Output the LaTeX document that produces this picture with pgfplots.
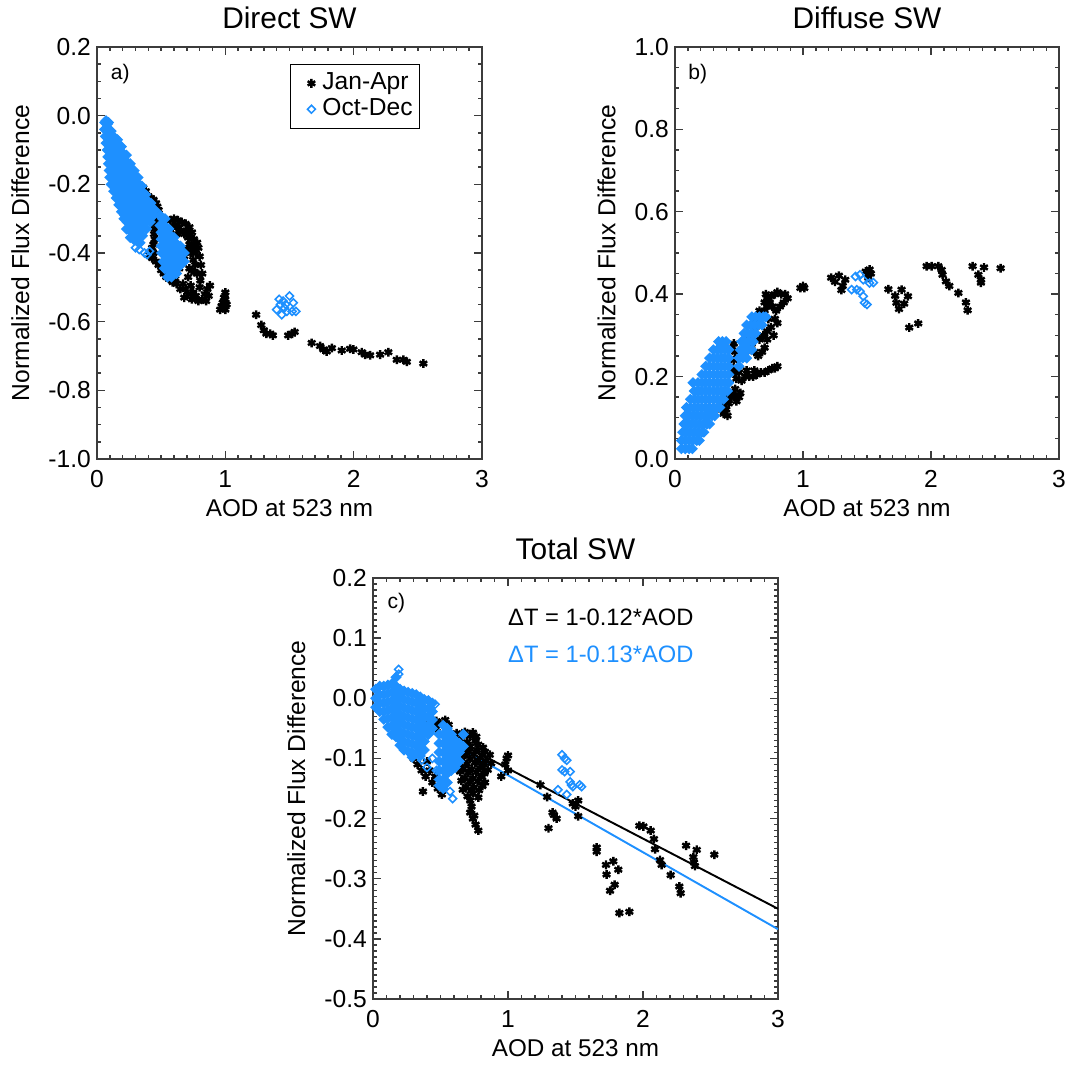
\documentclass[border=0pt]{standalone}
\usepackage{fontspec}
\setmainfont{Liberation Sans}
\usepackage{pgfplots}
\pgfplotsset{compat=1.18}
\definecolor{octdec}{RGB}{30,144,255}
\definecolor{axisgray}{RGB}{60,60,60}

\pgfplotsset{
  idl/.style={
    scale only axis,
    anchor=south west,
    xmin=0, xmax=3, xtick={0,1,2,3}, minor x tick num=9,
    tick align=inside,
    xtick pos=both, ytick pos=both,
    major tick length=4.8pt, minor tick length=2.5pt,
    axis line style={line width=1pt, axisgray},
    every tick/.style={axisgray, line width=0.8pt},
    /pgf/number format/assume math mode=true,
    xticklabel style={font=\fontsize{14}{16}\selectfont, yshift=-3pt},
    yticklabel style={font=\fontsize{14}{16}\selectfont,
      /pgf/number format/.cd, fixed, fixed zerofill, precision=1},
    xlabel={AOD at 523 nm}, ylabel={Normalized Flux Difference},
    xlabel style={font=\fontsize{13.8}{16}\selectfont},
    ylabel style={font=\fontsize{14}{16}\selectfont, yshift=4pt},
    title style={font=\fontsize{17}{19}\selectfont, yshift=1pt},
  },
  jan/.style={only marks, mark=asterisk, mark size=2.5pt, black, line width=1.4pt},
  oct/.style={only marks, mark=square, mark size=1.6pt, octdec, line width=0.9pt, mark options={rotate=45}},
  octf/.style={only marks, mark=square*, mark size=1.8pt, octdec, line width=0.9pt,
    mark options={rotate=45, fill=octdec}},
}
\tikzset{panel/.style={anchor=north west, inner sep=0pt, font=\fontsize{12}{14}\selectfont}}

\begin{document}
\begin{tikzpicture}
\path (0,0) rectangle (21.40cm,21.66cm);

% a) direct
\begin{axis}[idl, at={(1.94cm,12.48cm)}, width=7.70cm, height=8.24cm,
  ymin=-1.0, ymax=0.2, ytick={-1,-0.8,-0.6,-0.4,-0.2,0,0.2}, minor y tick num=3,
  title={Direct SW},
  legend cell align=left,
  legend image code/.code={\path[draw=none, fill=none] (0cm,-0.1cm) rectangle (0.5cm,0.1cm);
    \draw[#1] plot coordinates {(0.35cm,0cm)};},
  legend style={at={(0.501,0.959)}, anchor=north west, draw=black, line width=0.6pt,
    font=\fontsize{14}{16}\selectfont,
    nodes={font=\fontsize{14}{16}\selectfont, text height=10pt, text depth=3pt, inner ysep=0.5pt},
    row sep=0.7pt, inner xsep=2pt, inner ysep=3.8pt}]
\addplot[jan] coordinates {
(0.30,-0.20)(0.33,-0.205)(0.36,-0.21)(0.38,-0.22)(0.40,-0.235)(0.42,-0.24)(0.44,-0.245)
(0.46,-0.255)(0.47,-0.265)(0.48,-0.275)(0.465,-0.285)(0.455,-0.30)(0.46,-0.315)(0.45,-0.33)
(0.445,-0.345)(0.45,-0.36)(0.44,-0.375)(0.43,-0.385)(0.44,-0.40)(0.41,-0.405)(0.43,-0.415)
(0.46,-0.425)(0.48,-0.435)(0.50,-0.45)(0.52,-0.46)(0.54,-0.47)(0.56,-0.475)(0.59,-0.485)(0.61,-0.475)
(0.57,-0.305)(0.60,-0.30)(0.63,-0.305)(0.66,-0.31)(0.69,-0.315)(0.72,-0.325)(0.74,-0.34)
(0.755,-0.36)(0.745,-0.38)(0.73,-0.40)(0.75,-0.42)(0.765,-0.435)(0.77,-0.40)(0.78,-0.37)
(0.59,-0.325)(0.62,-0.345)(0.65,-0.335)(0.68,-0.345)(0.71,-0.355)(0.72,-0.375)(0.70,-0.39)
(0.68,-0.41)(0.66,-0.43)(0.64,-0.445)(0.61,-0.32)(0.64,-0.325)(0.70,-0.335)(0.76,-0.39)
(0.79,-0.385)(0.80,-0.41)(0.81,-0.435)(0.82,-0.46)(0.805,-0.48)(0.78,-0.46)(0.76,-0.455)
(0.74,-0.45)(0.72,-0.445)(0.71,-0.47)(0.73,-0.495)(0.75,-0.515)(0.77,-0.525)(0.79,-0.54)
(0.82,-0.535)(0.84,-0.52)(0.86,-0.505)(0.88,-0.495)(0.87,-0.525)(0.85,-0.54)(0.67,-0.49)
(0.69,-0.505)(0.71,-0.52)(0.68,-0.53)(0.65,-0.505)(0.62,-0.49)(0.74,-0.535)(0.80,-0.50)
(0.96,-0.565)(0.97,-0.555)(0.98,-0.545)(0.99,-0.53)(1.00,-0.515)(1.00,-0.535)(1.01,-0.55)(1.00,-0.565)
(1.24,-0.58)(1.28,-0.61)(1.30,-0.625)(1.32,-0.635)(1.35,-0.635)(1.37,-0.64)(1.49,-0.64)
(1.52,-0.635)(1.54,-0.63)
(1.673,-0.662)(1.738,-0.671)(1.764,-0.681)(1.79,-0.687)(1.83,-0.677)(1.907,-0.684)
(1.972,-0.679)(1.998,-0.681)(2.063,-0.689)(2.089,-0.696)(2.128,-0.698)(2.206,-0.696)
(2.27,-0.689)(2.336,-0.711)(2.387,-0.711)(2.414,-0.717)(2.543,-0.722)
};
\addlegendentry{Jan-Apr}
\addplot[oct] coordinates {
(1.40,-0.565)(1.42,-0.535)(1.45,-0.54)(1.47,-0.55)(1.50,-0.525)(1.48,-0.57)(1.52,-0.57)
(1.55,-0.57)(1.44,-0.58)(1.46,-0.56)(1.53,-0.545)(1.43,-0.55)
(0.37,-0.40)(0.39,-0.405)(0.41,-0.395)(0.30,-0.385)(0.33,-0.39)
};
\addlegendentry{Oct-Dec}
\addplot[octf, forget plot] coordinates {
(0.06,-0.02)(0.08,-0.025)(0.07,-0.015)(0.09,-0.02)
(0.06,-0.04)(0.085,-0.04)(0.11,-0.045)
(0.065,-0.06)(0.09,-0.055)(0.115,-0.06)(0.14,-0.065)(0.16,-0.07)
(0.07,-0.08)(0.095,-0.08)(0.12,-0.085)(0.145,-0.08)(0.17,-0.085)(0.19,-0.09)
(0.08,-0.10)(0.105,-0.10)(0.13,-0.105)(0.155,-0.10)(0.18,-0.105)(0.205,-0.11)(0.23,-0.115)
(0.085,-0.12)(0.11,-0.125)(0.135,-0.12)(0.16,-0.125)(0.185,-0.12)(0.21,-0.13)(0.235,-0.135)(0.26,-0.14)
(0.09,-0.14)(0.115,-0.145)(0.14,-0.14)(0.165,-0.145)(0.19,-0.14)(0.215,-0.15)(0.24,-0.15)(0.265,-0.155)(0.29,-0.16)
(0.095,-0.16)(0.12,-0.165)(0.145,-0.16)(0.17,-0.165)(0.195,-0.16)(0.22,-0.17)(0.245,-0.17)(0.27,-0.175)(0.295,-0.175)(0.32,-0.18)
(0.10,-0.18)(0.125,-0.185)(0.15,-0.18)(0.175,-0.185)(0.20,-0.18)(0.225,-0.19)(0.25,-0.19)(0.275,-0.195)(0.30,-0.19)(0.325,-0.20)(0.35,-0.205)
(0.11,-0.20)(0.135,-0.205)(0.16,-0.20)(0.185,-0.205)(0.21,-0.21)(0.235,-0.21)(0.26,-0.215)(0.285,-0.215)(0.31,-0.22)(0.335,-0.22)(0.36,-0.225)(0.38,-0.23)
(0.13,-0.22)(0.155,-0.225)(0.18,-0.225)(0.205,-0.23)(0.23,-0.23)(0.255,-0.235)(0.28,-0.235)(0.305,-0.24)(0.33,-0.24)(0.355,-0.245)(0.38,-0.245)(0.40,-0.25)(0.42,-0.255)
(0.15,-0.24)(0.175,-0.245)(0.20,-0.25)(0.225,-0.25)(0.25,-0.255)(0.275,-0.255)(0.30,-0.26)(0.325,-0.26)(0.35,-0.265)(0.375,-0.265)(0.40,-0.27)(0.425,-0.27)(0.45,-0.275)
(0.17,-0.26)(0.195,-0.265)(0.22,-0.27)(0.245,-0.27)(0.27,-0.275)(0.295,-0.275)(0.32,-0.28)(0.345,-0.28)(0.37,-0.285)(0.395,-0.285)(0.42,-0.29)(0.44,-0.29)
(0.19,-0.28)(0.215,-0.29)(0.24,-0.29)(0.265,-0.295)(0.29,-0.295)(0.315,-0.30)(0.34,-0.30)(0.365,-0.305)(0.39,-0.305)(0.415,-0.31)
(0.21,-0.30)(0.235,-0.31)(0.26,-0.315)(0.285,-0.315)(0.31,-0.32)(0.335,-0.32)(0.36,-0.325)(0.385,-0.33)
(0.49,-0.29)(0.51,-0.30)(0.53,-0.30)
(0.23,-0.33)(0.255,-0.335)(0.28,-0.34)(0.305,-0.34)(0.33,-0.345)(0.355,-0.35)
(0.49,-0.32)(0.515,-0.32)(0.54,-0.325)(0.56,-0.33)
(0.26,-0.355)(0.285,-0.36)(0.31,-0.365)(0.335,-0.37)
(0.50,-0.34)(0.525,-0.345)(0.55,-0.345)(0.575,-0.35)(0.60,-0.355)
(0.50,-0.36)(0.525,-0.365)(0.55,-0.365)(0.575,-0.37)(0.60,-0.37)(0.625,-0.375)(0.65,-0.38)
(0.50,-0.38)(0.525,-0.385)(0.55,-0.385)(0.575,-0.39)(0.60,-0.39)(0.625,-0.395)(0.65,-0.40)(0.68,-0.40)
(0.505,-0.40)(0.53,-0.405)(0.555,-0.41)(0.58,-0.41)(0.605,-0.415)(0.63,-0.415)(0.655,-0.42)(0.68,-0.425)
(0.515,-0.425)(0.54,-0.43)(0.565,-0.43)(0.59,-0.435)(0.615,-0.44)(0.64,-0.44)
(0.525,-0.445)(0.55,-0.45)(0.575,-0.455)(0.60,-0.45)(0.62,-0.46)
(0.55,-0.47)(0.58,-0.47)
};
\node[panel] at (rel axis cs:0.035,0.96) {a)};
\end{axis}

% b) diffuse
\begin{axis}[idl, at={(13.50cm,12.48cm)}, width=7.68cm, height=8.24cm,
  ymin=0, ymax=1.0, ytick={0,0.2,0.4,0.6,0.8,1}, minor y tick num=3,
  title={Diffuse SW}]
\addplot[jan] coordinates {
(0.45,0.22)(0.46,0.24)(0.47,0.26)(0.46,0.28)(0.44,0.27)(0.47,0.21)
(0.36,0.12)(0.38,0.13)(0.40,0.12)(0.42,0.135)(0.44,0.15)(0.46,0.155)(0.48,0.14)(0.50,0.15)
(0.40,0.145)(0.43,0.16)(0.47,0.17)(0.51,0.16)(0.38,0.11)(0.41,0.105)
(0.48,0.195)(0.50,0.21)(0.52,0.19)(0.55,0.20)(0.58,0.20)(0.61,0.20)(0.64,0.205)(0.67,0.21)
(0.70,0.21)(0.73,0.215)(0.76,0.22)(0.78,0.22)(0.80,0.225)(0.56,0.215)(0.62,0.215)
(0.52,0.25)(0.55,0.26)(0.58,0.27)(0.60,0.28)(0.62,0.26)(0.65,0.25)(0.68,0.26)(0.70,0.27)
(0.66,0.29)(0.69,0.30)(0.72,0.31)(0.60,0.30)(0.63,0.32)(0.57,0.29)
(0.62,0.33)(0.65,0.34)(0.68,0.35)(0.70,0.36)(0.72,0.37)(0.74,0.38)(0.70,0.38)(0.72,0.39)
(0.75,0.395)(0.78,0.40)(0.80,0.405)(0.83,0.40)(0.86,0.40)(0.88,0.39)(0.76,0.37)(0.79,0.36)
(0.82,0.37)(0.85,0.38)(0.78,0.34)(0.80,0.33)(0.73,0.34)(0.75,0.32)(0.77,0.30)(0.72,0.29)
(0.66,0.36)(0.71,0.40)
(0.98,0.415)(1.00,0.42)(1.01,0.415)
(1.22,0.44)(1.25,0.43)(1.28,0.445)(1.31,0.42)(1.33,0.435)(1.30,0.41)
(1.49,0.455)(1.52,0.46)(1.51,0.44)(1.53,0.45)
(1.667,0.412)(1.72,0.396)(1.77,0.411)(1.73,0.379)(1.75,0.364)(1.79,0.377)(1.82,0.395)
(1.83,0.319)(1.90,0.329)
(1.966,0.468)(2.005,0.468)(2.057,0.468)(2.083,0.459)(2.09,0.447)(2.117,0.431)(2.143,0.420)
(2.214,0.403)(2.273,0.380)(2.286,0.361)(2.325,0.468)(2.37,0.447)(2.39,0.435)(2.39,0.428)
(2.414,0.465)(2.544,0.463)
};
\addplot[oct] coordinates {
(1.38,0.411)(1.42,0.411)(1.445,0.407)(1.47,0.395)(1.48,0.379)(1.50,0.375)(1.41,0.443)
(1.445,0.447)(1.47,0.435)(1.52,0.427)(1.55,0.428)
};
\addplot[octf] coordinates {
(0.05,0.025)(0.08,0.025)(0.11,0.025)(0.135,0.025)
(0.05,0.045)(0.08,0.045)(0.11,0.045)(0.14,0.045)(0.17,0.045)(0.19,0.045)
(0.06,0.065)(0.09,0.065)(0.12,0.065)(0.15,0.065)(0.18,0.065)(0.21,0.065)(0.225,0.065)
(0.07,0.085)(0.10,0.085)(0.13,0.085)(0.16,0.085)(0.19,0.085)(0.22,0.085)(0.25,0.085)(0.27,0.085)
(0.08,0.105)(0.11,0.105)(0.14,0.105)(0.17,0.105)(0.20,0.105)(0.23,0.105)(0.26,0.105)(0.29,0.105)(0.31,0.105)
(0.09,0.125)(0.12,0.125)(0.15,0.125)(0.18,0.125)(0.21,0.125)(0.24,0.125)(0.27,0.125)(0.30,0.125)(0.33,0.125)(0.35,0.125)
(0.12,0.145)(0.15,0.145)(0.18,0.145)(0.21,0.145)(0.24,0.145)(0.27,0.145)(0.30,0.145)(0.33,0.145)(0.36,0.145)(0.38,0.145)
(0.15,0.165)(0.18,0.165)(0.21,0.165)(0.24,0.165)(0.27,0.165)(0.30,0.165)(0.33,0.165)(0.36,0.165)(0.39,0.165)(0.41,0.165)
(0.14,0.185)(0.18,0.185)(0.21,0.185)(0.24,0.185)(0.27,0.185)(0.30,0.185)(0.33,0.185)(0.36,0.185)(0.39,0.185)(0.42,0.185)
(0.21,0.205)(0.24,0.205)(0.27,0.205)(0.30,0.205)(0.33,0.205)(0.36,0.205)(0.39,0.205)(0.42,0.205)
(0.24,0.225)(0.27,0.225)(0.30,0.225)(0.33,0.225)(0.36,0.225)(0.39,0.225)(0.42,0.225)(0.50,0.225)
(0.27,0.245)(0.30,0.245)(0.33,0.245)(0.36,0.245)(0.39,0.245)(0.42,0.245)(0.50,0.245)(0.53,0.245)(0.56,0.245)
(0.30,0.265)(0.33,0.265)(0.36,0.265)(0.39,0.265)(0.42,0.265)(0.51,0.265)(0.54,0.265)(0.57,0.265)(0.60,0.265)
(0.34,0.285)(0.37,0.285)(0.40,0.285)(0.52,0.285)(0.55,0.285)(0.58,0.285)(0.61,0.285)
(0.54,0.305)(0.57,0.305)(0.60,0.305)(0.63,0.305)
(0.56,0.325)(0.59,0.325)(0.62,0.325)(0.65,0.325)(0.68,0.325)
(0.60,0.345)(0.63,0.345)(0.66,0.345)(0.69,0.345)(0.71,0.345)
};
\node[panel] at (rel axis cs:0.034,0.96) {b)};
\end{axis}

% c) total
\begin{axis}[idl, at={(7.46cm,1.68cm)}, width=8.10cm, height=8.42cm,
  ymin=-0.5, ymax=0.2, ytick={-0.5,-0.4,-0.3,-0.2,-0.1,0,0.1,0.2}, minor y tick num=9,
  title={Total SW}]
\addplot[jan] coordinates {
(0.42,-0.04)(0.45,-0.045)(0.47,-0.05)
(0.30,-0.10)(0.33,-0.11)(0.36,-0.12)(0.37,-0.155)(0.39,-0.13)(0.42,-0.12)(0.44,-0.14)
(0.46,-0.13)(0.48,-0.15)(0.51,-0.16)(0.40,-0.105)(0.34,-0.09)
(0.47,-0.038)(0.50,-0.042)(0.535,-0.036)(0.56,-0.044)
(0.62,-0.058)(0.655,-0.063)(0.68,-0.056)(0.715,-0.062)(0.74,-0.057)(0.765,-0.064)
(0.60,-0.078)(0.635,-0.072)(0.66,-0.079)(0.695,-0.073)(0.72,-0.08)(0.755,-0.071)(0.78,-0.077)(0.815,-0.082)
(0.625,-0.092)(0.65,-0.087)(0.685,-0.094)(0.71,-0.088)(0.745,-0.093)(0.77,-0.086)(0.805,-0.095)(0.83,-0.089)(0.865,-0.094)
(0.635,-0.108)(0.66,-0.102)(0.695,-0.109)(0.72,-0.101)(0.755,-0.107)(0.78,-0.103)(0.815,-0.11)(0.84,-0.104)(0.875,-0.108)
(0.645,-0.122)(0.67,-0.117)(0.705,-0.124)(0.73,-0.118)(0.765,-0.123)(0.79,-0.116)(0.825,-0.125)(0.85,-0.119)
(0.655,-0.137)(0.68,-0.132)(0.715,-0.139)(0.74,-0.133)(0.775,-0.138)(0.80,-0.131)(0.83,-0.14)
(0.665,-0.152)(0.69,-0.147)(0.725,-0.154)(0.75,-0.148)(0.785,-0.153)(0.81,-0.146)
(0.70,-0.163)(0.74,-0.158)(0.78,-0.165)
(0.72,-0.17)(0.73,-0.18)(0.72,-0.19)(0.74,-0.20)(0.76,-0.21)(0.78,-0.22)(0.75,-0.195)
(0.95,-0.13)(0.99,-0.10)(1.00,-0.12)(0.98,-0.11)(1.00,-0.095)
(1.24,-0.144)(1.29,-0.164)(1.30,-0.216)(1.34,-0.194)(1.36,-0.20)(1.33,-0.19)
(1.48,-0.175)(1.52,-0.17)(1.52,-0.196)(1.50,-0.18)
(1.657,-0.248)(1.657,-0.255)(1.726,-0.277)(1.73,-0.293)(1.78,-0.271)(1.817,-0.285)
(1.79,-0.310)(1.756,-0.320)(1.825,-0.357)(1.899,-0.355)
(1.973,-0.212)(2.003,-0.213)(2.057,-0.220)(2.081,-0.234)(2.089,-0.251)(2.126,-0.269)
(2.138,-0.277)(2.205,-0.294)(2.269,-0.313)(2.279,-0.324)
(2.319,-0.245)(2.398,-0.252)(2.373,-0.264)(2.378,-0.273)(2.385,-0.279)(2.528,-0.260)
};
\addplot[oct] coordinates {
(0.19,0.048)(0.19,0.04)(0.46,-0.01)(0.36,-0.103)(0.40,-0.115)(0.44,-0.10)(0.47,-0.12)
(0.57,-0.155)(0.59,-0.167)
(1.40,-0.094)(1.42,-0.10)(1.435,-0.103)(1.40,-0.119)(1.42,-0.122)(1.46,-0.122)(1.46,-0.139)
(1.47,-0.144)(1.48,-0.147)(1.53,-0.144)(1.545,-0.147)(1.37,-0.152)(1.435,-0.16)
};
\addplot[octf] coordinates {
(0.02,0.015)(0.02,0.0)(0.02,-0.015)
(0.05,0.02)(0.05,0.006)(0.05,-0.008)(0.05,-0.022)
(0.08,0.02)(0.08,0.006)(0.08,-0.008)(0.08,-0.022)(0.08,-0.035)
(0.11,0.022)(0.11,0.008)(0.11,-0.006)(0.11,-0.02)(0.11,-0.034)(0.11,-0.048)
(0.14,0.024)(0.14,0.01)(0.14,-0.004)(0.14,-0.018)(0.14,-0.032)(0.14,-0.046)(0.14,-0.06)
(0.17,0.035)(0.17,0.02)(0.17,0.006)(0.17,-0.008)(0.17,-0.022)(0.17,-0.036)(0.17,-0.05)(0.17,-0.064)
(0.20,0.015)(0.20,0.001)(0.20,-0.013)(0.20,-0.027)(0.20,-0.041)(0.20,-0.055)(0.20,-0.069)(0.20,-0.078)
(0.23,0.012)(0.23,-0.002)(0.23,-0.016)(0.23,-0.03)(0.23,-0.044)(0.23,-0.058)(0.23,-0.072)(0.23,-0.086)
(0.26,0.01)(0.26,-0.004)(0.26,-0.018)(0.26,-0.032)(0.26,-0.046)(0.26,-0.06)(0.26,-0.074)(0.26,-0.088)
(0.29,0.008)(0.29,-0.006)(0.29,-0.02)(0.29,-0.034)(0.29,-0.048)(0.29,-0.062)(0.29,-0.076)(0.29,-0.09)(0.29,-0.098)
(0.32,0.006)(0.32,-0.008)(0.32,-0.022)(0.32,-0.036)(0.32,-0.05)(0.32,-0.064)(0.32,-0.078)(0.32,-0.092)
(0.35,0.002)(0.35,-0.012)(0.35,-0.026)(0.35,-0.04)(0.35,-0.054)(0.35,-0.068)(0.35,-0.082)(0.35,-0.096)
(0.38,-0.002)(0.38,-0.016)(0.38,-0.03)(0.38,-0.044)(0.38,-0.058)(0.38,-0.072)(0.38,-0.086)
(0.41,-0.004)(0.41,-0.018)(0.41,-0.032)(0.41,-0.046)(0.41,-0.06)
(0.44,-0.008)(0.44,-0.022)(0.44,-0.036)(0.44,-0.05)
(0.49,-0.06)(0.49,-0.075)(0.49,-0.09)(0.49,-0.105)(0.49,-0.12)(0.49,-0.135)(0.49,-0.145)
(0.52,-0.045)(0.52,-0.06)(0.52,-0.075)(0.52,-0.09)(0.52,-0.105)(0.52,-0.12)(0.52,-0.135)(0.52,-0.15)
(0.55,-0.05)(0.55,-0.065)(0.55,-0.08)(0.55,-0.095)(0.55,-0.11)(0.55,-0.125)(0.55,-0.14)
(0.58,-0.06)(0.58,-0.075)(0.58,-0.09)(0.58,-0.105)(0.58,-0.12)
(0.61,-0.07)(0.61,-0.085)(0.61,-0.10)(0.61,-0.115)
(0.64,-0.075)(0.64,-0.09)(0.64,-0.105)
(0.67,-0.06)(0.67,-0.08)
};
\addplot[black, line width=1.1pt] coordinates {(0,0) (3,-0.35)};
\addplot[octdec, line width=1.1pt] coordinates {(0,0) (3,-0.384)};
\node[panel] at (rel axis cs:0.035,0.964) {c)};
\node[anchor=base west, inner sep=0pt, font=\fontsize{13.5}{16}\selectfont]
  at (rel axis cs:0.333,0.888) {ΔT = 1-0.12*AOD};
\node[anchor=base west, inner sep=0pt, text=octdec, font=\fontsize{13.5}{16}\selectfont]
  at (rel axis cs:0.333,0.80) {ΔT = 1-0.13*AOD};
\end{axis}
\end{tikzpicture}
\end{document}
